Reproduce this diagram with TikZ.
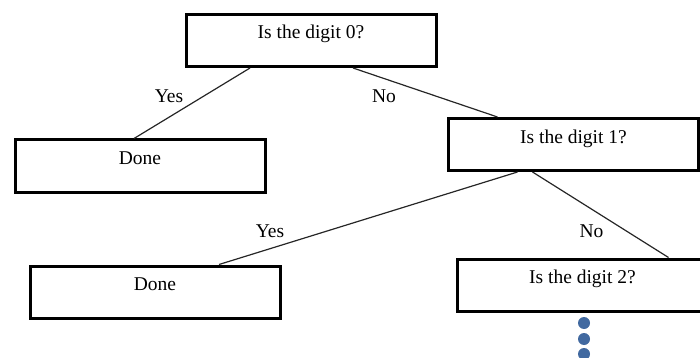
\documentclass[tikz,border=0pt]{standalone}
\usepackage{fontspec}
\setmainfont{Liberation Serif}
\definecolor{dotblue}{RGB}{65,105,160}
\begin{document}
\begin{tikzpicture}[x=1pt,y=-1pt,
  box/.style={draw=black, line width=3pt, fill=white, minimum width=250pt, minimum height=52pt,
    inner sep=0pt, text height=24.5pt, text depth=27.5pt, font=\fontsize{19.5}{22}\selectfont},
  lbl/.style={anchor=base, inner sep=0pt, font=\fontsize{19.5}{22}\selectfont},
  conn/.style={draw=black!85, line width=1.2pt},
  dotc/.style={circle, fill=dotblue, minimum size=12pt, inner sep=0pt}]
\useasboundingbox (0,0) rectangle (700,358);
\clip (0,0) rectangle (700,358);
\node[box] (q0) at (311,40.5) {Is the digit 0?};
\node[box] (d1) at (140,166) {Done};
\node[box] (q1) at (573.5,144.5) {Is the digit 1?};
\node[box] (d2) at (155,292) {Done};
\node[box] (q2) at (582.5,285) {Is the digit 2?};
\draw[conn] ([xshift=65.5pt]q0.south west) -- ([xshift=120.5pt]d1.north west);
\draw[conn] ([xshift=168.5pt]q0.south west) -- ([xshift=50.5pt]q1.north west);
\draw[conn] ([xshift=70.5pt]q1.south west) -- ([xshift=190.5pt]d2.north west);
\draw[conn] ([xshift=85.5pt]q1.south west) -- ([xshift=212.5pt]q2.north west);
\node[lbl] (y1) at (169,103) {Yes};
\node[lbl] (n1) at (384,103) {No};
\node[lbl] (y2) at (270,237) {Yes};
\node[lbl] (n2) at (591.5,237) {No};
\node[dotc] (p1) at (584,323) {};
\node[dotc] (p2) at (584,339) {};
\node[dotc] (p3) at (584,354) {};
\end{tikzpicture}
\end{document}
